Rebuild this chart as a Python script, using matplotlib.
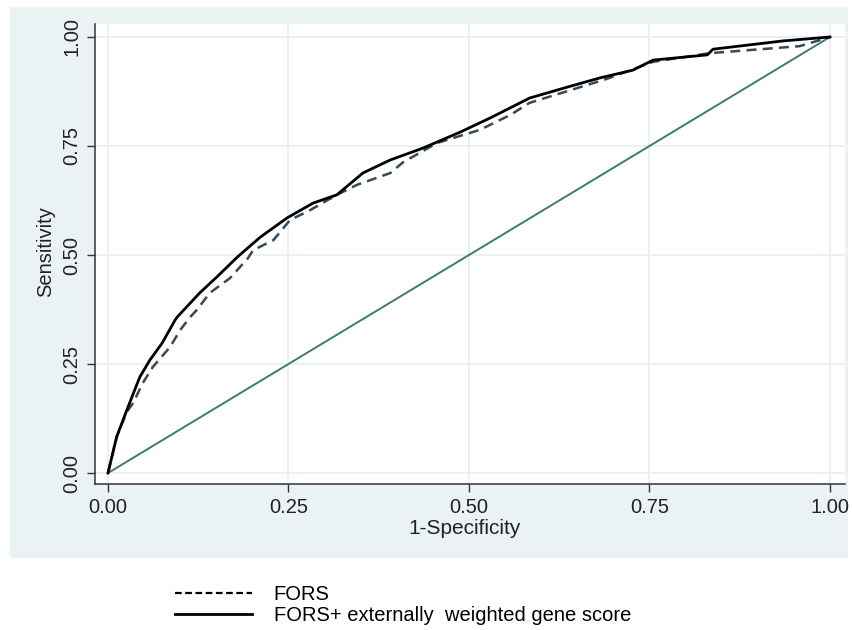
import matplotlib
matplotlib.use("Agg")
import matplotlib.pyplot as plt
from matplotlib.lines import Line2D

plt.rcParams['font.family'] = ['Liberation Sans', 'DejaVu Sans']

# ROC curve: FORS + externally weighted gene score (solid)
solid_x = [0.0, 0.012, 0.026, 0.044, 0.058, 0.075, 0.093, 0.096, 0.127, 0.151, 0.179,
           0.190, 0.211, 0.248, 0.284, 0.317, 0.353, 0.391, 0.436, 0.488, 0.529,
           0.584, 0.636, 0.681, 0.727, 0.755, 0.830, 0.838, 0.889, 0.935, 1.0]
solid_y = [0.0, 0.083, 0.144, 0.220, 0.259, 0.298, 0.351, 0.358, 0.413, 0.450, 0.495,
           0.511, 0.541, 0.585, 0.619, 0.638, 0.688, 0.718, 0.745, 0.782, 0.814,
           0.860, 0.885, 0.906, 0.924, 0.947, 0.959, 0.972, 0.982, 0.991, 1.0]

# ROC curve: FORS (dashed)
dash_x = [0.0, 0.012, 0.026, 0.035, 0.048, 0.062, 0.086, 0.100, 0.114, 0.123, 0.141,
          0.169, 0.194, 0.201, 0.229, 0.252, 0.280, 0.317, 0.345, 0.391, 0.409,
          0.456, 0.515, 0.557, 0.584, 0.691, 0.755, 0.834, 0.889, 0.958, 1.0]
dash_y = [0.0, 0.083, 0.140, 0.161, 0.206, 0.243, 0.289, 0.328, 0.358, 0.374, 0.413,
          0.447, 0.493, 0.511, 0.534, 0.580, 0.603, 0.638, 0.661, 0.688, 0.713,
          0.757, 0.787, 0.821, 0.849, 0.904, 0.943, 0.963, 0.970, 0.979, 1.0]

ref_x = [0.0, 1.0]
ref_y = [0.0, 1.0]

ticks = [0.0, 0.25, 0.5, 0.75, 1.0]
tick_labels = ["0.00", "0.25", "0.50", "0.75", "1.00"]
legend_labels = ["FORS", "FORS+ externally  weighted gene score"]

W, H = 853, 630
fig = plt.figure(figsize=(W / 100, H / 100), dpi=100)
fig.patch.set_facecolor("white")

# outer graph region (Stata style)
bg = fig.add_axes([10 / W, 1 - 558 / H, 838 / W, 551 / H], zorder=0)
bg.set_facecolor("#EAF2F3")
bg.set_xticks([])
bg.set_yticks([])
for s in bg.spines.values():
    s.set_visible(False)

ax = fig.add_axes([95 / W, 1 - 484 / H, 750 / W, 460 / H], zorder=1)
ax.set_facecolor("white")
ax.set_xlim(-0.018, 1.0208)
ax.set_ylim(-0.0252, 1.0298)

ax.grid(True, color="#E8EFF1", lw=1.2)
ax.set_axisbelow(True)

ax.plot(ref_x, ref_y, color="#3E7B6B", lw=1.4, zorder=2)
ax.plot(dash_x, dash_y, color="#34495A", lw=1.8, ls=(0, (4, 2.5)), zorder=3)
ax.plot(solid_x, solid_y, color="black", lw=2.0, zorder=4)

for s in ["top", "right"]:
    ax.spines[s].set_visible(False)
for s in ["left", "bottom"]:
    ax.spines[s].set_color("#333333")
    ax.spines[s].set_linewidth(1.1)

ax.set_xticks(ticks)
ax.set_xticklabels(tick_labels, fontsize=14.5, color="#222222")
ax.set_yticks(ticks)
ax.set_yticklabels(tick_labels, fontsize=14.5, color="#222222", rotation=90, va="center")
ax.tick_params(direction="out", length=6, width=1, color="#333333", pad=4)

ax.set_xlabel("1-Specificity", fontsize=15, color="#222222")
ax.set_ylabel("Sensitivity", fontsize=14.5, color="#222222")
ax.xaxis.set_label_coords((465 - 95) / 750, -(519 - 484) / 460)
ax.yaxis.set_label_coords(-(95 - 55) / 750, (484 - 252) / 460)

handles = [Line2D([], [], color="black", lw=1.6, ls=(0, (3, 1.6))),
           Line2D([], [], color="black", lw=2.0)]
fig.legend(handles, legend_labels, loc="upper left",
           bbox_to_anchor=(175 / W, 1 - 585 / H), frameon=False, borderpad=0,
           borderaxespad=0, fontsize=14.5, handlelength=3.8, handletextpad=1.1,
           labelspacing=0.08)

fig.savefig("out.png", dpi=100)
